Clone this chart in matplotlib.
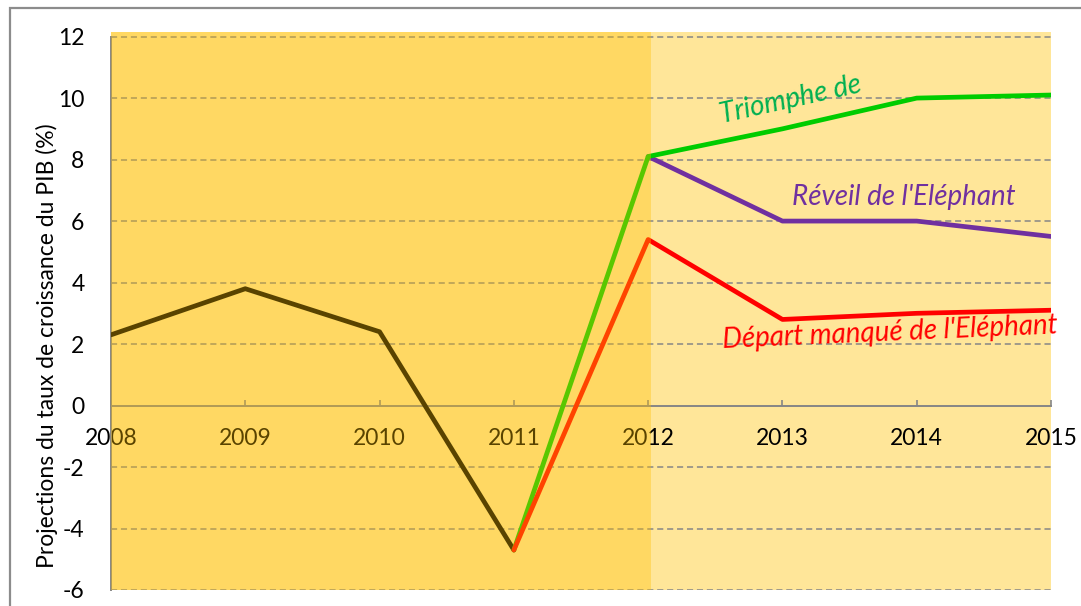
import matplotlib
matplotlib.use("Agg")
from matplotlib import pyplot as plt
from matplotlib.patches import Rectangle

plt.rcParams['font.family'] = ['Lato', 'DejaVu Sans']
plt.rcParams['axes.unicode_minus'] = False

# data (growth rate, %)
years = [2008, 2009, 2010, 2011, 2012, 2013, 2014, 2015]
hist_years = [2008, 2009, 2010, 2011]
hist_vals = [2.3, 3.8, 2.4, -4.7]
triomphe_years = [2011, 2012, 2013, 2014, 2015]
triomphe_vals = [-4.7, 8.1, 9.0, 10.0, 10.1]
reveil_years = [2012, 2013, 2014, 2015]
reveil_vals = [8.1, 6.0, 6.0, 5.5]
depart_years = [2011, 2012, 2013, 2014, 2015]
depart_vals = [-4.7, 5.4, 2.8, 3.0, 3.1]
yticks = [-6, -4, -2, 0, 2, 4, 6, 8, 10, 12]

W, H = 1081, 606
fig = plt.figure(figsize=(W / 100, H / 100), dpi=100)
fig.patch.set_facecolor('white')
ax = fig.add_axes([111 / W, 16 / H, 940 / W, 558 / H])
ax.set_facecolor('#FFE699')

# outer frame of the chart
fig.add_artist(Rectangle((10 / W, -0.5), 1.5, 0.5 + 1 - 8 / H, transform=fig.transFigure,
                         fill=False, edgecolor='#8C8C8C', linewidth=1.6))

grid_c = '#868686'
for v in yticks:
    if v != 0:
        ax.axhline(v, color=grid_c, lw=1.1, ls=(0, (4, 2.5)), zorder=1)

lw = 3.4
kw = dict(lw=lw, solid_capstyle='round', solid_joinstyle='round', zorder=3)
ax.plot(hist_years, hist_vals, color='black', **kw)
ax.plot(reveil_years, reveil_vals, color='#7030A0', **kw)
ax.plot(triomphe_years, triomphe_vals, color='#00CC00', **kw)
ax.plot(depart_years, depart_vals, color='#FF0000', **kw)

ax.set_xlim(2008, 2015)
ax.set_ylim(-6, 12.15)
ax.set_xticks(years)
ax.set_yticks(yticks)

for s in ['top', 'right']:
    ax.spines[s].set_visible(False)
ax.spines['bottom'].set_position(('data', 0))
ax.spines['bottom'].set_color(grid_c)
ax.spines['bottom'].set_linewidth(1.4)
ax.spines['left'].set_color(grid_c)
ax.spines['left'].set_linewidth(1.4)
ax.spines['left'].set_bounds(-6, 12)
ax.tick_params(axis='x', direction='in', length=4.5, width=1.2, color=grid_c,
               pad=16, labelsize=16.5, labelcolor='black')
ax.tick_params(axis='y', length=0, pad=19, labelsize=16.5, labelcolor='black')

ax.set_ylabel("Projections du taux de croissance du PIB (%)", fontsize=16.5)
ax.yaxis.set_label_coords(-53 / 940, 0.437)

# translucent overlay on the historical period
ax.axvspan(2008, 2012.02, ymin=0, ymax=1, color='#FFC000', alpha=0.353, lw=0, zorder=10)

ax.text(2013.06, 9.96, "Triomphe de", color='#00B050', fontsize=20, style='italic',
        rotation=12.5, ha='center', va='center', zorder=11)
ax.text(2013.905, 6.79, "Réveil de l'Eléphant", color='#7030A0', fontsize=20,
        style='italic', ha='center', va='center', zorder=11)
ax.text(2013.80, 2.37, "Départ manqué de l'Eléphant", color='#FF0000', fontsize=20,
        style='italic', rotation=2.5, ha='center', va='center', zorder=11)

fig.savefig("out.png", dpi=100)
